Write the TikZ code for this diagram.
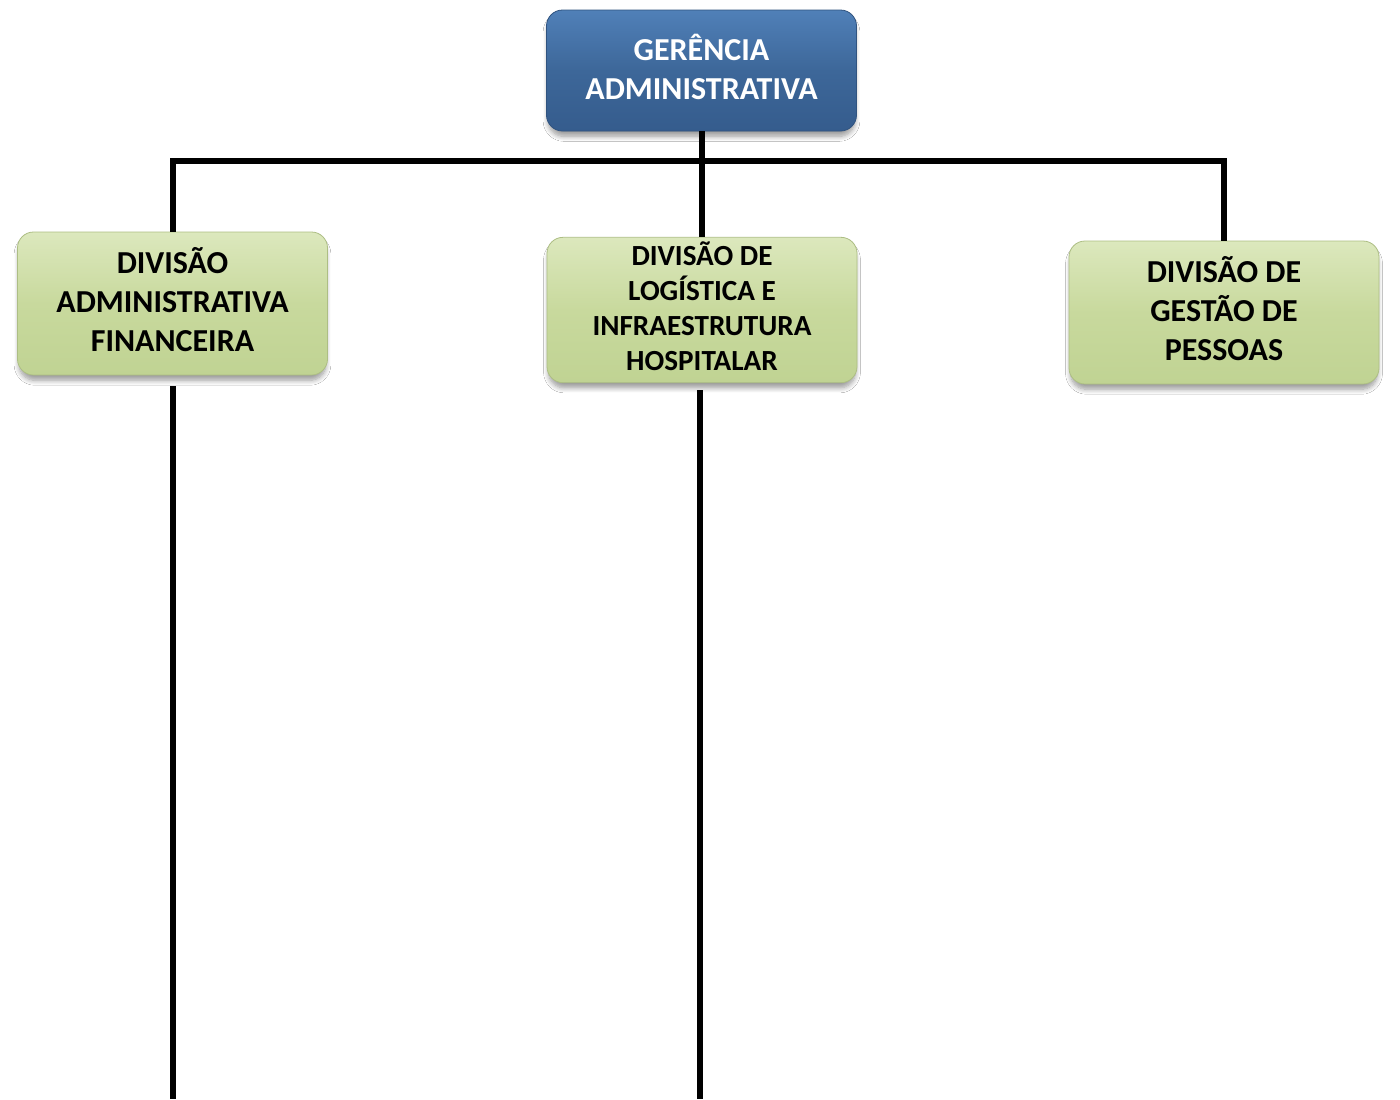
\documentclass[tikz,border=0pt]{standalone}
\usepackage{fontspec}
\setmainfont{Carlito}
\usetikzlibrary{shadows.blur}

\definecolor{blueTop}{HTML}{5080B8}
\definecolor{blueMid}{HTML}{3D6799}
\definecolor{blueBot}{HTML}{355C8D}
\definecolor{greenTop}{HTML}{DCE8BD}
\definecolor{greenMid}{HTML}{C8D99D}
\definecolor{greenBot}{HTML}{C0D393}

\tikzset{
  orgbox/.style={
    rounded corners=8pt, inner sep=2pt, align=center,
    minimum width=155pt, font=\bfseries, text depth=4pt,
    blur shadow={shadow xshift=0pt, shadow yshift=-3pt,
                 shadow blur radius=2.5pt, shadow blur steps=8,
                 shadow opacity=40, shadow scale=0.99}
  },
  headbox/.style={orgbox, minimum height=60.5pt, text=white,
    top color=blueTop, bottom color=blueBot, middle color=blueMid,
    draw=blueBot!90!black, line width=0.4pt},
  divbox/.style={orgbox, minimum height=71.5pt, text=black,
    top color=greenTop, bottom color=greenBot, middle color=greenMid,
    draw=greenBot!90!black, line width=0.4pt},
  link/.style={line width=3pt, draw=black},
  bigtext/.style={font=\fontsize{16}{19.4}\selectfont\bfseries},
  smalltext/.style={font=\fontsize{14.6}{17.6}\selectfont\bfseries}
}

\begin{document}
\begin{tikzpicture}[x=0.5pt, y=-0.5pt]
  \useasboundingbox[fill=white] (0,0) rectangle (1400,1099);

  % boxes
  \node[headbox, bigtext] (head) at (701.5,70.5)
       {GERÊNCIA\\ADMINISTRATIVA};
  \node[divbox, bigtext] (admfin) at (172.5,303.5)
       {DIVISÃO\\ADMINISTRATIVA\\FINANCEIRA};
  \node[divbox, smalltext] (logist) at (702,310)
       {DIVISÃO DE\\LOGÍSTICA E\\INFRAESTRUTURA\\HOSPITALAR};
  \node[divbox, bigtext] (pessoas) at (1224,312.5)
       {DIVISÃO DE\\GESTÃO DE\\PESSOAS};

  % bus line level and open ends at the bottom edge
  \coordinate (bus) at (0,161);
  \coordinate (endA) at (admfin.south |- 0,1099);
  \coordinate (endB) at ([xshift=-1pt]logist.south |- 0,1099);

  % connectors, ending at the box borders
  \draw[link] (head.south) -- (head.south |- logist.north);
  \draw[link] (admfin.north) |- (pessoas.north |- bus) -- (pessoas.north);
  \draw[link] (admfin.south) ++(0,11) -- (endA);
  \draw[link] (endB |- logist.south) ++(0,7) -- (endB);
\end{tikzpicture}
\end{document}
